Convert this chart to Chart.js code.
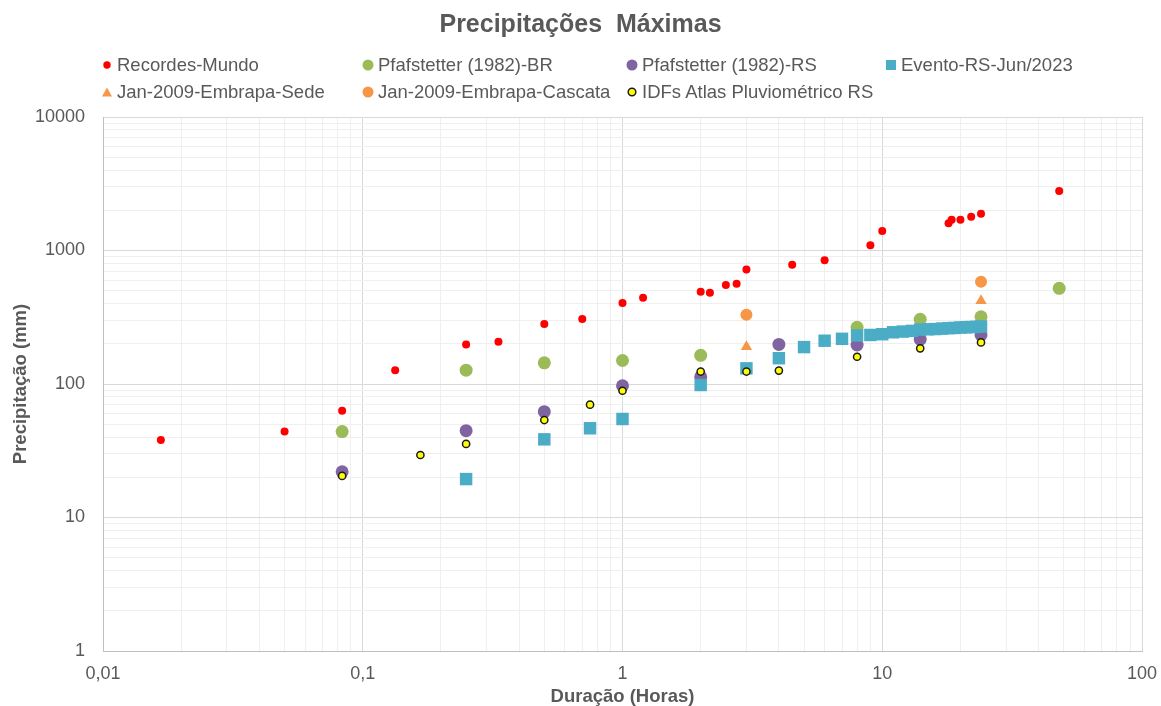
<!DOCTYPE html>
<html lang="pt-BR">
<head>
<meta charset="UTF-8">
<title>Precipitações Máximas</title>
<script src="https://cdn.jsdelivr.net/npm/chart.js@4.4.1/dist/chart.umd.min.js"></script>
<style>
    html, body { margin: 0; padding: 0; background: #ffffff; }
    #wrap { position: relative; width: 1161px; height: 706px; }
    #legend {
        position: absolute; left: 100px; top: 52px;
        display: grid; grid-template-columns: 261px 264px 259px 262px;
        font: 18.5px "Liberation Sans", Arial, sans-serif; color: #595959;
    }
    .item { display: flex; align-items: center; height: 26.5px; white-space: nowrap; }
    .item svg { width: 14px; height: 14px; margin-right: 3px; flex: none; }
</style>
</head>
<body>
<div id="wrap">
    <canvas id="chart" width="1161" height="706"></canvas>
    <div id="legend"></div>
</div>
<script>
// Duração (horas) e precipitação (mm)
const recordesX = [0.0167, 0.05, 0.0833, 0.1333, 0.25, 0.333, 0.5, 0.7, 1, 1.2, 2, 2.17, 2.5, 2.75, 3, 4.5, 6, 9, 10, 18, 18.5, 20, 22, 24, 48];
const recordesY = [38, 44, 63, 127, 198, 207, 281, 307, 404, 443, 491, 483, 552, 564, 722, 783, 845, 1094, 1400, 1600, 1703, 1703, 1792, 1888, 2793];

const pfafBrX = [0.0833, 0.25, 0.5, 1, 2, 8, 14, 24, 48];
const pfafBrY = [44, 127, 144, 150, 164, 266, 305, 319, 521];

const pfafRsX = [0.0833, 0.25, 0.5, 1, 2, 4, 8, 14, 24];
const pfafRsY = [22, 44.7, 62, 97, 113, 198, 196, 216, 233];

const eventoX = [0.25, 0.5, 0.75, 1, 2, 3, 4, 5, 6, 7, 8, 9, 10, 11, 12, 13, 14, 15, 16, 17, 18, 19, 20, 21, 22, 23, 24];
const eventoY = [19.4, 38.5, 46.6, 54.7, 98.3, 131, 156, 189, 211, 218, 231, 233, 236, 244, 247, 250, 256, 257, 258, 260, 262, 263, 265, 266, 267, 268, 270];

const sedeX = [3, 24];
const sedeY = [190, 421];

const cascataX = [3, 24];
const cascataY = [330, 584];

const idfX = [0.0833, 0.1667, 0.25, 0.5, 0.75, 1, 2, 3, 4, 8, 14, 24];
const idfY = [20.5, 29.4, 35.6, 53.7, 70, 89, 124, 124, 126, 160, 185, 205];

const xTickLabels = ['0,01', '0,1', '1', '10', '100'];
const yTickLabels = ['1', '10', '100', '1000', '10000'];

const FONT = '"Liberation Sans", Arial, sans-serif';
const GRAY = '#595959';

function points(xs, ys) {
    return xs.map((x, i) => ({ x: x, y: ys[i] }));
}

// one tick per 1..9 x 10^n so the minor grid matches Excel
function logTicks(scale) {
    const lo = Math.round(Math.log10(scale.min));
    const hi = Math.round(Math.log10(scale.max));
    const ticks = [];
    for (let e = lo; e <= hi; e++) {
        for (let m = 1; m <= 9; m++) {
            if (e === hi && m > 1) break;
            ticks.push({ value: +(m * Math.pow(10, e)).toPrecision(10) });
        }
    }
    scale.ticks = ticks;
}

function isDecade(v) {
    const l = Math.log10(v);
    return Math.abs(l - Math.round(l)) < 1e-9;
}

function tickLabel(labels, min) {
    return function(value) {
        if (!isDecade(value)) return '';
        return labels[Math.round(Math.log10(value)) - Math.round(Math.log10(min))];
    };
}

const series = [
    { label: 'Recordes-Mundo', data: points(recordesX, recordesY), style: 'circle', r: 4, color: '#ff0000' },
    { label: 'Pfafstetter (1982)-BR', data: points(pfafBrX, pfafBrY), style: 'circle', r: 6.5, color: '#9bbb59' },
    { label: 'Pfafstetter (1982)-RS', data: points(pfafRsX, pfafRsY), style: 'circle', r: 6.5, color: '#8064a2' },
    { label: 'Evento-RS-Jun/2023', data: points(eventoX, eventoY), style: 'rect', r: 8.8, color: '#4bacc6' },
    { label: 'Jan-2009-Embrapa-Sede', data: points(sedeX, sedeY), style: 'triangle', r: 6.5, color: '#f79646' },
    { label: 'Jan-2009-Embrapa-Cascata', data: points(cascataX, cascataY), style: 'circle', r: 6, color: '#f79646' },
    { label: 'IDFs Atlas Pluviométrico RS', data: points(idfX, idfY), style: 'circle', r: 3.6, color: '#ffff00', border: '#1a1a1a' }
];

const datasets = series.map((s, i) => ({
    label: s.label,
    data: s.data,
    order: series.length - i,
    pointStyle: s.style,
    pointRadius: s.r,
    pointHoverRadius: s.r,
    backgroundColor: s.color,
    borderColor: s.border || s.color,
    borderWidth: s.border ? 1.5 : 0,
    showLine: false
}));

// legend in HTML so the columns line up like the original
const legendMarkers = [
    '<circle cx="7" cy="7" r="3.7" fill="#ff0000"/>',
    '<circle cx="7" cy="7" r="5.5" fill="#9bbb59"/>',
    '<circle cx="7" cy="7" r="5.5" fill="#8064a2"/>',
    '<rect x="2" y="2" width="10" height="10" fill="#4bacc6"/>',
    '<polygon points="7,2.5 12,11.5 2,11.5" fill="#f79646"/>',
    '<circle cx="7" cy="7" r="5.5" fill="#f79646"/>',
    '<circle cx="7" cy="7" r="3.8" fill="#ffff00" stroke="#1a1a1a" stroke-width="1.5"/>'
];
document.getElementById('legend').innerHTML = series.map((s, i) =>
    '<div class="item"><svg viewBox="0 0 14 14">' + legendMarkers[i] + '</svg><span>' + s.label + '</span></div>'
).join('');

new Chart(document.getElementById('chart'), {
    type: 'scatter',
    data: { datasets: datasets },
    options: {
        responsive: false,
        animation: false,
        events: [],
        layout: { padding: 0 },
        plugins: {
            legend: { display: false },
            tooltip: { enabled: false },
            title: {
                display: true,
                text: 'Precipitações  Máximas',
                color: GRAY,
                font: { family: FONT, size: 25, weight: 'bold' },
                padding: { top: 10, bottom: 77 }
            }
        },
        scales: {
            x: {
                type: 'logarithmic',
                min: 0.01,
                max: 100,
                afterBuildTicks: logTicks,
                afterFit: (scale) => {
                    // keep the plot right edge 19px from the canvas, as in the original
                    scale.height = 55;
                    scale.paddingLeft = 0;
                    scale.paddingRight = 19;
                },
                ticks: {
                    autoSkip: false,
                    maxRotation: 0,
                    padding: 12,
                    color: GRAY,
                    font: { family: FONT, size: 18 },
                    callback: tickLabel(xTickLabels, 0.01)
                },
                grid: {
                    drawTicks: false,
                    color: (ctx) => isDecade(ctx.tick.value) ? '#d9d9d9' : '#efefef'
                },
                border: { color: '#bfbfbf' },
                title: {
                    display: true,
                    text: 'Duração (Horas)',
                    color: GRAY,
                    font: { family: FONT, size: 18.5, weight: 'bold', lineHeight: 1 },
                    padding: { top: 0, bottom: 0 }
                }
            },
            y: {
                type: 'logarithmic',
                min: 1,
                max: 10000,
                afterBuildTicks: logTicks,
                afterFit: (scale) => { scale.width = 103; },
                ticks: {
                    autoSkip: false,
                    padding: 18,
                    color: GRAY,
                    font: { family: FONT, size: 18 },
                    callback: tickLabel(yTickLabels, 1)
                },
                grid: {
                    drawTicks: false,
                    color: (ctx) => isDecade(ctx.tick.value) ? '#d9d9d9' : '#efefef'
                },
                border: { color: '#bfbfbf' },
                title: {
                    display: true,
                    text: 'Precipitação (mm)',
                    color: GRAY,
                    font: { family: FONT, size: 18.5, weight: 'bold' },
                    padding: { top: 10, bottom: 0 }
                }
            }
        }
    }
});
</script>
</body>
</html>
